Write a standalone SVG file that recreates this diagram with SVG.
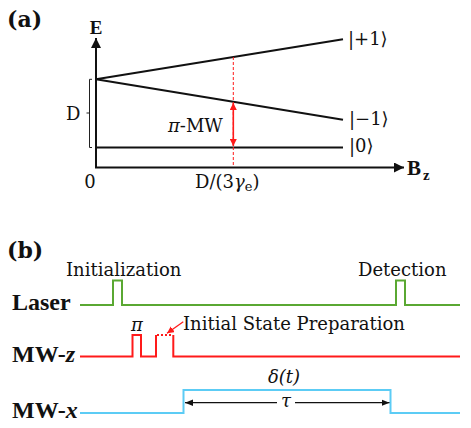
<svg xmlns="http://www.w3.org/2000/svg" width="471" height="428" viewBox="0 0 471 428">
<style>
.t{font-family:"DejaVu Serif","Liberation Serif",serif;font-size:18px;fill:#111}
.it{font-style:italic}
.pb{font-family:"DejaVu Serif",serif;font-weight:bold;font-size:22px;fill:#111}
.lb{font-family:"Liberation Serif",serif;font-weight:bold;font-size:24px;fill:#111}
.ln{stroke:#111;stroke-width:2;fill:none}
.thin{stroke:#222;stroke-width:1;fill:none}
</style>
<defs>
<marker id="ah" viewBox="0 0 10 10" refX="10" refY="5" markerWidth="10" markerHeight="10" markerUnits="userSpaceOnUse" orient="auto-start-reverse"><path d="M0,0 L10,5 L0,10 Z" fill="#111"/></marker>
<marker id="rh" viewBox="0 0 10 10" refX="10" refY="5" markerWidth="7" markerHeight="7" markerUnits="userSpaceOnUse" orient="auto-start-reverse"><path d="M0,0 L10,5 L0,10 Z" fill="#ff1a1a"/></marker>
<marker id="bh" viewBox="0 0 10 10" refX="10" refY="5" markerWidth="8" markerHeight="8" markerUnits="userSpaceOnUse" orient="auto-start-reverse"><path d="M0,1 L10,5 L0,9 Z" fill="#111"/></marker>
</defs>
<g id="panel-a">
<text class="pb" x="7" y="27">(a)</text>
<g id="axes">
<line class="ln" x1="96" y1="168" x2="96" y2="38" marker-end="url(#ah)"/>
<line class="ln" x1="95" y1="167.5" x2="404" y2="167.5" marker-end="url(#ah)"/>
<text x="96" y="34" text-anchor="middle" style="font-family:'Liberation Serif',serif;font-weight:bold;font-size:19px;fill:#111">E</text>
<text x="407" y="175" style="font-family:'Liberation Serif',serif;font-weight:bold;font-size:21px;fill:#111">B</text>
<text x="423" y="180" style="font-family:'Liberation Serif',serif;font-weight:bold;font-size:15px;fill:#111">z</text>
<text class="t" x="90" y="188" text-anchor="middle">0</text>
<text class="t" x="195" y="188">D/(3<tspan class="it">γ</tspan><tspan font-size="13" dy="3">e</tspan><tspan dy="-3">)</tspan></text>
</g>
<g id="levels">
<line class="ln" x1="96" y1="79.3" x2="343" y2="39.3"/>
<line class="ln" x1="96" y1="79.3" x2="343" y2="119.7"/>
<line class="ln" x1="96" y1="147.5" x2="343" y2="147.5"/>
<text class="t" x="348" y="45" font-size="16">|+1⟩</text>
<text class="t" x="349" y="125" font-size="16">|−1⟩</text>
<text class="t" x="349" y="152" font-size="16">|0⟩</text>
</g>
<g id="bracket">
<path class="thin" d="M92,79.3 H89.5 V147.5 H92 M89.5,113 H86.5"/>
<text class="t" x="66" y="120">D</text>
</g>
<g id="transition">
<line x1="233.3" y1="57" x2="233.3" y2="167" stroke="#ff1a1a" stroke-width="1" stroke-dasharray="3,2"/>
<line x1="233.3" y1="103" x2="233.3" y2="146" stroke="#ff1a1a" stroke-width="1.6" marker-start="url(#rh)" marker-end="url(#rh)"/>
<text class="t" x="168" y="132"><tspan class="it">π</tspan>-MW</text>
</g>
</g>
<g id="panel-b">
<text class="pb" x="7" y="258">(b)</text>
<g id="laser">
<text class="lb" x="12" y="310">Laser</text>
<path d="M80,305 H113 V280.5 H122 V305 H396 V280.5 H405 V305 H460" fill="none" stroke="#5aa832" stroke-width="2"/>
<text class="t" x="66" y="276">Initialization</text>
<text class="t" x="358" y="276">Detection</text>
</g>
<g id="mwz">
<text class="lb" x="12" y="362">MW-<tspan font-style="italic">z</tspan></text>
<path d="M80,356.5 H132.5 V335 H141 V356.5 H156 V335" fill="none" stroke="#ff1a1a" stroke-width="2"/>
<path d="M157,335 H173" fill="none" stroke="#ff1a1a" stroke-width="2" stroke-dasharray="2,2"/>
<path d="M173.3,335 V356.5 H460" fill="none" stroke="#ff1a1a" stroke-width="2"/>
<text class="t it" x="137" y="331" text-anchor="middle">π</text>
<text class="t" x="183" y="330">Initial State Preparation</text>
<line x1="183.3" y1="321.7" x2="167" y2="333.3" stroke="#ff1a1a" stroke-width="1.2" marker-end="url(#rh)"/>
</g>
<g id="mwx">
<text class="lb" x="12" y="418">MW-<tspan font-style="italic">x</tspan></text>
<path d="M80,413 H183.5 V390 H390.5 V413 H460" fill="none" stroke="#5cccf5" stroke-width="2"/>
<text class="t it" x="268" y="383">δ(t)</text>
<line x1="277" y1="402.7" x2="185" y2="402.7" stroke="#111" stroke-width="1.2" marker-end="url(#bh)"/>
<line x1="295" y1="402.7" x2="389.5" y2="402.7" stroke="#111" stroke-width="1.2" marker-end="url(#bh)"/>
<text class="t it" x="286" y="407" text-anchor="middle">τ</text>
</g>
</g>
</svg>
